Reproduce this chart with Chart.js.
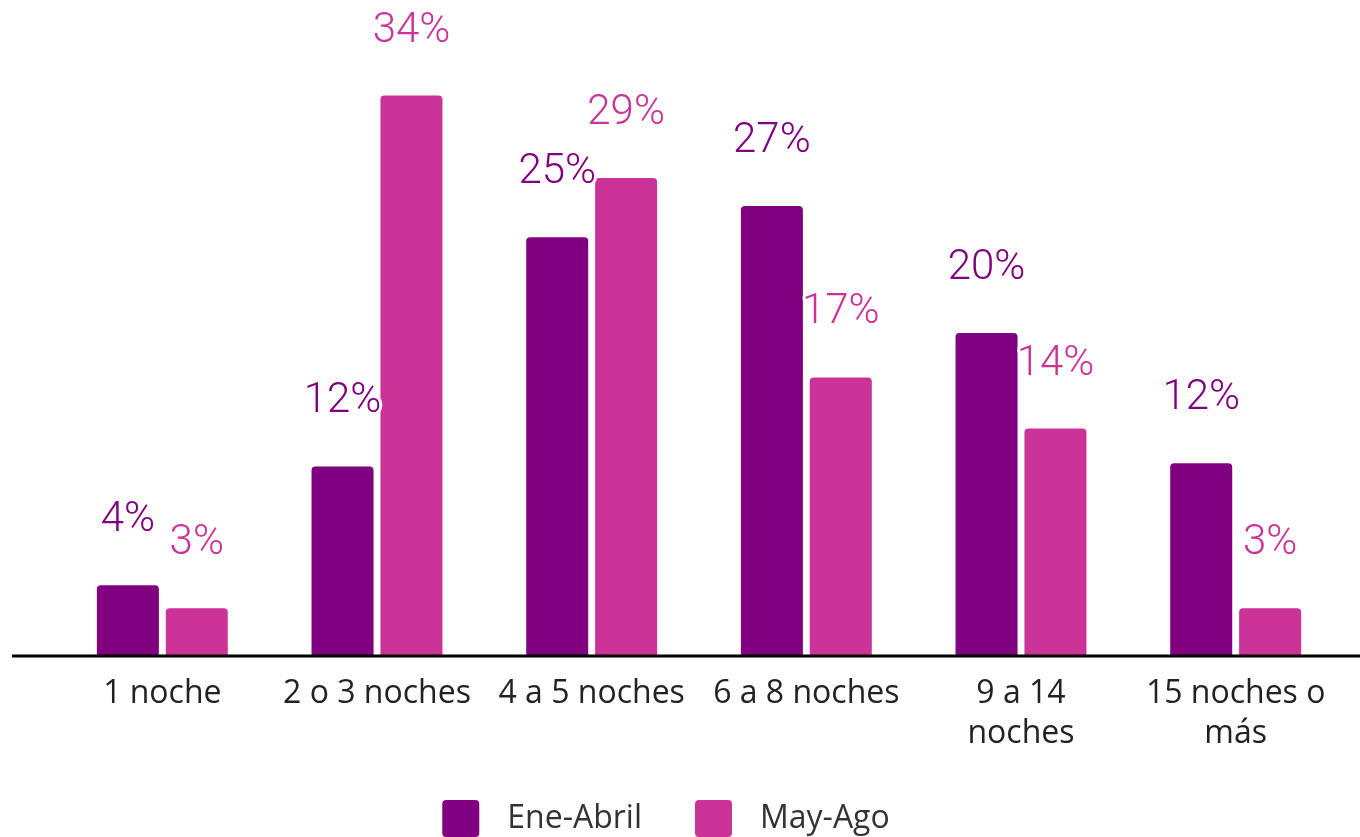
<!DOCTYPE html>
<html lang="es">
<head>
    <meta charset="UTF-8">
    <title>Noches de estancia</title>
    <script src="https://cdn.jsdelivr.net/npm/chart.js"></script>
    <style>
        body {
            margin: 0;
            padding: 0;
            background-color: #ffffff;
        }
        .container {
            width: 1360px;
            height: 837px;
            position: relative;
        }
    </style>
</head>
<body>
    <div class="container">
        <canvas id="nightsChart"></canvas>
    </div>
    <script>
        const categories = ['1 noche', '2 o 3 noches', '4 a 5 noches', '6 a 8 noches', ['9 a 14', 'noches'], ['15 noches o', 'más']];
        const seriesNames = ['Ene-Abril', 'May-Ago'];
        const eneAbril = [4.3, 11.5, 25.4, 27.3, 19.6, 11.7];
        const mayAgo = [2.9, 34, 29, 16.9, 13.8, 2.9];

        const purple = '#800080';
        const pink = '#cc3399';

        // baseline drawn across the whole width, like the original
        const baseLine = {
            id: 'baseLine',
            afterDatasetsDraw(chart) {
                const ctx = chart.ctx;
                const y = chart.chartArea.bottom;
                ctx.save();
                ctx.strokeStyle = '#000';
                ctx.lineWidth = 3;
                ctx.beginPath();
                ctx.moveTo(12, y);
                ctx.lineTo(chart.width, y);
                ctx.stroke();
                ctx.restore();
            }
        };

        // percentage labels above the bars, with a white halo
        const valueLabels = {
            id: 'valueLabels',
            afterDatasetsDraw(chart) {
                const ctx = chart.ctx;
                ctx.save();
                ctx.font = '300 42px Roboto';
                ctx.textAlign = 'center';
                ctx.textBaseline = 'alphabetic';
                ctx.lineJoin = 'round';
                chart.data.datasets.forEach((ds, i) => {
                    chart.getDatasetMeta(i).data.forEach((bar, j) => {
                        const txt = Math.round(ds.data[j]) + '%';
                        ctx.strokeStyle = '#ffffff';
                        ctx.lineWidth = 6;
                        ctx.strokeText(txt, bar.x, bar.y - 54);
                        ctx.fillStyle = ds.backgroundColor;
                        ctx.fillText(txt, bar.x, bar.y - 54);
                    });
                });
                ctx.restore();
            }
        };

        // legend at the bottom: square + name, wider spacing than the built-in one allows
        const bottomLegend = {
            id: 'bottomLegend',
            afterDraw(chart) {
                const ctx = chart.ctx;
                const box = 37, gapText = 28, gapItem = 53, top = 800;
                ctx.save();
                ctx.font = '32px "Open Sans"';
                ctx.textBaseline = 'middle';
                const items = chart.data.datasets.map(ds => ({
                    text: ds.label, color: ds.backgroundColor, w: box + gapText + ctx.measureText(ds.label).width
                }));
                const total = items.reduce((s, it) => s + it.w, 0) + gapItem * (items.length - 1);
                let x = 666 - total / 2;
                items.forEach(it => {
                    ctx.fillStyle = it.color;
                    ctx.beginPath();
                    ctx.roundRect(x, top, box, box, 4);
                    ctx.fill();
                    ctx.fillStyle = '#333';
                    ctx.fillText(it.text, x + box + gapText, top + box / 2);
                    x += it.w + gapItem;
                });
                ctx.restore();
            }
        };

        new Chart(document.getElementById('nightsChart'), {
            type: 'bar',
            data: {
                labels: categories,
                datasets: [{
                    label: seriesNames[0],
                    data: eneAbril,
                    backgroundColor: purple,
                    borderRadius: 4,
                    categoryPercentage: 0.642,
                    barPercentage: 0.9
                }, {
                    label: seriesNames[1],
                    data: mayAgo,
                    backgroundColor: pink,
                    borderRadius: 4,
                    categoryPercentage: 0.642,
                    barPercentage: 0.9
                }]
            },
            options: {
                responsive: true,
                maintainAspectRatio: false,
                animation: false,
                layout: {
                    padding: { left: 12, right: 17, top: 0, bottom: 38 }
                },
                scales: {
                    x: {
                        grid: { display: false, drawTicks: false },
                        border: { display: false },
                        ticks: {
                            color: '#222',
                            padding: 18,
                            maxRotation: 0,
                            autoSkip: false,
                            font: { family: '"Open Sans"', size: 32, lineHeight: 1.25 }
                        },
                        afterFit(axis) { axis.height = 143; }
                    },
                    y: {
                        min: 0,
                        max: 39.8,
                        grid: { display: false, drawTicks: false },
                        border: { display: false },
                        ticks: { display: false },
                        afterFit(axis) { axis.width = 43; }
                    }
                },
                plugins: {
                    legend: { display: false },
                    tooltip: { enabled: false }
                }
            },
            plugins: [baseLine, valueLabels, bottomLegend]
        });
    </script>
</body>
</html>
